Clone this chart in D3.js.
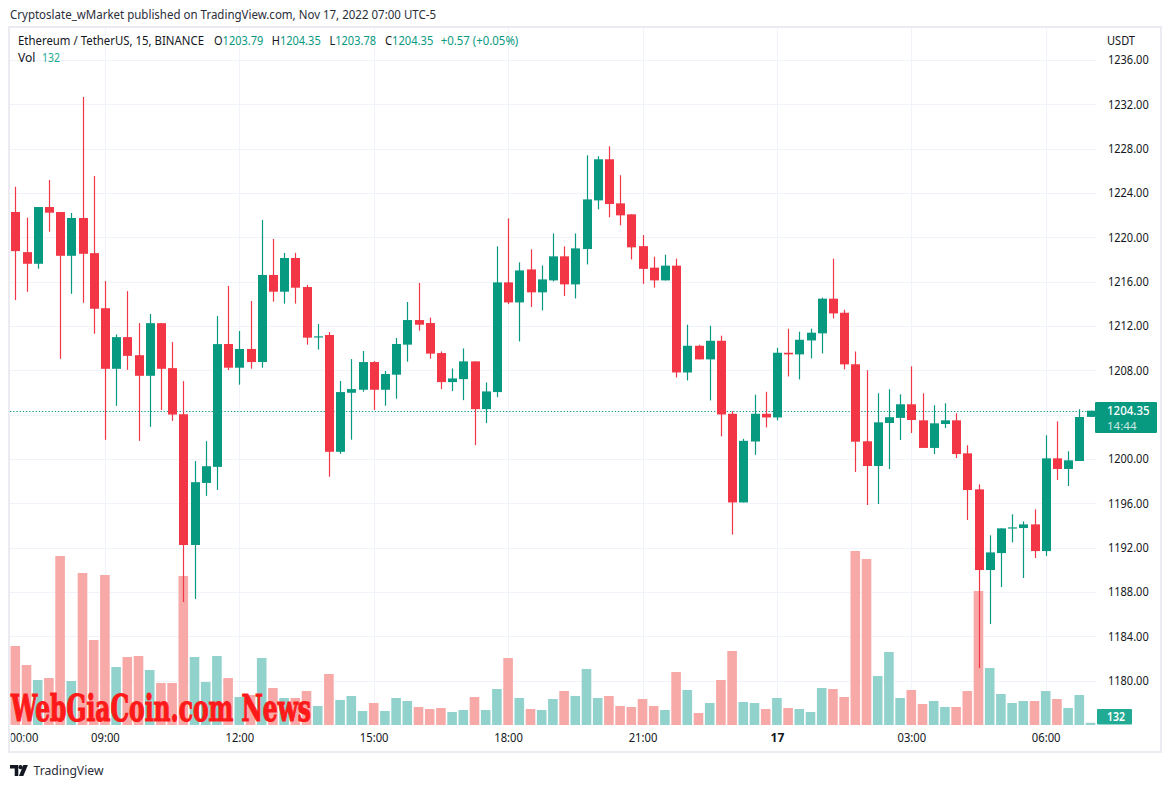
<!DOCTYPE html>
<html><head><meta charset="utf-8">
<script src="https://cdn.jsdelivr.net/npm/d3@7"></script>
<style>html,body{margin:0;padding:0;background:#fff;}svg{display:block;font-family:"Noto Sans",sans-serif;}</style>
</head><body><svg id="c" width="1171" height="788"></svg>
<script>
// ---------- DATA ----------
const openP = [1222.28,1218.66,1217.61,1222.73,1222.28,1218.33,1221.74,1218.57,1213.6,1208.13,
1210.99,1209.36,1207.5,1212.25,1208.19,1204.03,1192.23,1197.83,1199.28,1210.37,
1208.23,1209.92,1208.74,1216.6,1215.09,1218.13,1215.51,1211.0,1211.18,1200.64,
1205.97,1206.24,1208.74,1206.24,1207.6,1210.31,1212.53,1212.26,1209.55,1206.93,
1207.2,1208.8,1204.49,1206.03,1215.93,1214.12,1217.1,1215.03,1216.11,1218.28,
1215.75,1218.94,1223.33,1227.04,1223.06,1222.07,1219.2,1217.26,1216.11,1217.44,
1207.8,1210.21,1208.98,1210.66,1204.07,1196.07,1201.57,1204.07,1203.74,1209.58,
1209.43,1210.69,1211.33,1214.46,1213.19,1208.54,1201.59,1199.36,1203.24,1203.7,
1204.93,1203.48,1200.99,1203.15,1203.48,1200.5,1197.25,1189.97,1191.5,1193.73,
1193.76,1194.09,1191.68,1200.05,1199.09,1199.81,1203.79];
const highP = [1224.56,1221.77,1222.73,1225.17,1222.28,1222.19,1232.66,1225.53,1216.05,1211.23,
1215.14,1212.25,1213.07,1212.25,1210.54,1207.02,1199.8,1201.6,1212.89,1215.61,
1211.54,1214.25,1221.57,1219.85,1218.59,1218.59,1215.7,1212.17,1211.45,1207.03,
1209.01,1209.74,1208.83,1207.93,1210.91,1214.16,1215.88,1212.75,1209.7,1208.16,
1209.97,1208.8,1206.9,1219.18,1221.71,1217.74,1218.91,1217.46,1220.35,1219.18,
1220.35,1227.4,1227.31,1228.21,1225.6,1222.07,1220.2,1218.25,1218.43,1218.07,
1212.11,1210.3,1212.02,1211.12,1204.31,1201.81,1205.79,1206.06,1210.03,1211.75,
1211.48,1211.75,1214.55,1218.07,1213.46,1209.69,1208.0,1205.92,1206.28,1205.83,
1208.36,1205.92,1204.84,1205.02,1204.12,1201.23,1197.7,1193.1,1193.73,1195.0,
1194.36,1195.45,1202.13,1203.39,1200.69,1204.48,1204.35];
const lowP = [1214.33,1215.08,1217.16,1220.5,1209.03,1214.9,1214.09,1211.29,1201.72,1204.79,
1208.04,1201.63,1202.89,1204.4,1203.43,1187.09,1187.36,1196.66,1197.2,1208.02,
1206.7,1208.14,1208.23,1214.19,1214.01,1214.01,1210.31,1209.86,1198.39,1200.46,
1201.73,1206.06,1204.41,1204.8,1205.43,1208.77,1211.57,1209.04,1206.3,1206.12,
1205.3,1201.24,1203.23,1205.57,1213.97,1210.6,1213.7,1213.4,1216.02,1214.7,
1214.48,1217.55,1222.52,1221.8,1221.08,1218.0,1215.8,1215.45,1216.11,1207.35,
1207.08,1208.98,1205.28,1202.03,1193.17,1196.07,1200.37,1202.84,1203.47,1207.44,
1207.17,1209.07,1209.52,1212.68,1208.08,1198.82,1195.84,1195.93,1199.09,1201.71,
1202.34,1200.99,1200.44,1202.79,1200.08,1194.48,1181.12,1185.09,1188.43,1192.47,
1189.25,1191.05,1191.23,1198.1,1197.55,1199.81,1203.78];
const closeP = [1218.75,1217.61,1222.73,1222.22,1218.33,1221.74,1218.51,1213.55,1208.13,1210.99,
1209.3,1207.5,1212.25,1208.13,1204.0,1192.23,1197.9,1199.34,1210.36,1208.23,
1209.92,1208.74,1216.6,1215.09,1218.13,1215.45,1210.94,1211.06,1200.64,1206.03,
1206.3,1208.74,1206.24,1207.66,1210.37,1212.53,1212.11,1209.5,1206.93,1207.26,
1208.8,1204.49,1206.09,1215.93,1214.12,1217.01,1215.03,1216.2,1218.28,1215.75,
1219.0,1223.42,1227.04,1223.0,1221.98,1219.09,1217.15,1216.11,1217.44,1207.8,
1210.21,1208.98,1210.66,1204.01,1196.07,1201.63,1204.07,1203.74,1209.58,1209.43,
1210.75,1211.39,1214.46,1213.13,1208.53,1201.55,1199.36,1203.3,1203.76,1204.93,
1203.51,1200.99,1203.21,1203.48,1200.44,1197.19,1189.97,1191.56,1193.73,1193.82,
1194.09,1191.68,1200.05,1199.09,1199.87,1203.78,1204.35];
const volume = [4740,3600,2700,2820,10140,2640,9120,5100,9000,3480,
4080,4140,3300,2520,2520,8940,4080,2580,4140,2820,
1680,1800,4020,2220,1620,1620,2040,1140,3060,1500,
1740,840,1320,840,1620,1440,1080,960,1020,780,
900,1680,900,2160,4020,1620,960,900,1560,2040,
1740,3360,1620,1740,1140,1080,1560,1140,900,3180,
2100,720,1320,2700,4440,1380,1320,960,1620,1020,
960,780,2220,2160,1680,10440,9960,2940,4380,1620,
2100,1260,1440,1080,1080,2040,8040,3420,1860,1320,
1440,1440,2040,1560,1020,1800,132];
const priceTicks = [1180,1184,1188,1192,1196,1200,1204,1208,1212,1216,1220,1224,1228,1232,1236];
const timeTickLabels = ["09:00","12:00","15:00","18:00","21:00","17","03:00","06:00"];
const startTime = Date.UTC(2022,10,16,7,0);   // first candle 07:00, 15-minute bars
const times = d3.range(openP.length).map(i => new Date(startTime + i*15*60000));

// ---------- SETUP ----------
const svg = d3.select("#c");
const GREEN="#089981", RED="#f23645", VGREEN="#92d2cc", VRED="#f7a9a7", GRID="#f0f3fa", TXT="#131722";
const paneL=10, paneR=1096, paneT=28, paneB=726;

const x = d3.scaleLinear().domain([0, openP.length-1]).range([15.3, 1090.5]);
const y = d3.scaleLinear().domain([1180, 1236]).range([680.5, 60]);
const yv = d3.scaleLinear().domain([0, 12000]).range([725, 525]);

function txt(p, s, X, Y, o={}) {
  const t = p.append("text").attr("x",X).attr("y",Y).text(s)
    .attr("font-size", o.size||12).attr("fill", o.fill||TXT).attr("text-anchor", o.anchor||"start");
  if (o.w) t.attr("textLength", o.w).attr("lengthAdjust","spacingAndGlyphs");
  if (o.weight) t.attr("font-weight", o.weight);
  if (o.family) t.attr("font-family", o.family);
  return t;
}

const defs = svg.append("defs");
defs.append("clipPath").attr("id","pane").append("rect")
  .attr("x",paneL).attr("y",paneT).attr("width",paneR-paneL).attr("height",paneB-paneT);
defs.append("clipPath").attr("id","taxis").append("rect")
  .attr("x",paneL+0.8).attr("y",-8).attr("width",paneR-paneL).attr("height",26);

// title
txt(svg, "Cryptoslate_wMarket published on TradingView.com, Nov 17, 2022 07:00 UTC-5", 10, 18.5, {w:426, fill:"#2a2e39"});

// frame
svg.append("rect").attr("x",9).attr("y",27).attr("width",1152).attr("height",725)
  .attr("fill","none").attr("stroke","#e6e7ee").attr("stroke-width",1.6);

const pane = svg.append("g").attr("clip-path","url(#pane)");

// grid
const tickIdx = times.map((t,i)=>i).filter(i => times[i].getUTCMinutes()===0 && times[i].getUTCHours()%3===0);
pane.append("g").selectAll("line.h").data(priceTicks).join("line")
  .attr("x1",paneL).attr("x2",paneR)
  .attr("y1",d=>Math.round(y(d))+0.5).attr("y2",d=>Math.round(y(d))+0.5)
  .attr("stroke",GRID).attr("stroke-width",1);
pane.append("g").selectAll("line.v").data(tickIdx).join("line")
  .attr("x1",d=>Math.round(x(d))+0.5).attr("x2",d=>Math.round(x(d))+0.5)
  .attr("y1",paneT).attr("y2",paneB)
  .attr("stroke",GRID).attr("stroke-width",1);

const data = d3.range(openP.length).map(i => ({i, o:openP[i], h:highP[i], l:lowP[i], c:closeP[i], v:volume[i], up: closeP[i]>=openP[i]}));

// volume
pane.append("g").selectAll("rect").data(data).join("rect")
  .attr("x", d => x(d.i)-4.8).attr("width", 9.6)
  .attr("y", d => yv(d.v)).attr("height", d => yv(0)-yv(d.v))
  .attr("fill", d => d.up ? VGREEN : VRED);

// current price line
const last = data[data.length-1];
pane.append("line").attr("x1",paneL).attr("x2",paneR)
  .attr("y1",Math.round(y(last.c))+0.5).attr("y2",Math.round(y(last.c))+0.5)
  .attr("stroke",GREEN).attr("stroke-width",1.1).attr("stroke-dasharray","1.3 1.9");

// candles
const cg = pane.append("g");
cg.selectAll("line").data(data).join("line")
  .attr("x1", d => Math.round(x(d.i))+0.5).attr("x2", d => Math.round(x(d.i))+0.5)
  .attr("y1", d => y(d.h)).attr("y2", d => y(d.l))
  .attr("stroke", d => d.up ? GREEN : RED).attr("stroke-width", 1.2);
cg.selectAll("rect").data(data).join("rect")
  .attr("x", d => Math.round(x(d.i))-4).attr("width", 9)
  .attr("y", d => y(Math.max(d.o,d.c)))
  .attr("height", d => Math.max(1.2, y(Math.min(d.o,d.c)) - y(Math.max(d.o,d.c))))
  .attr("fill", d => d.up ? GREEN : RED);

// header legend
const H = svg.append("g");
txt(H, "Ethereum / TetherUS, 15, BINANCE", 18, 45.3, {w:186});
const ohlc = [["O", last.o, 214, 49.3], ["H", last.h, 271.7, 49], ["L", last.l, 329.5, 46.5], ["C", last.c, 385, 48.3]];
ohlc.forEach(([k,v,kx,w]) => {
  const t = H.append("text").attr("x",kx).attr("y",45.3).attr("font-size",12)
    .attr("textLength",w).attr("lengthAdjust","spacingAndGlyphs");
  t.append("tspan").attr("fill",TXT).text(k);
  t.append("tspan").attr("fill",GREEN).text(v.toFixed(2));
});
const chg = last.c - data[data.length-2].c;
txt(H, (chg>=0?"+":"") + chg.toFixed(2) + " (" + (chg>=0?"+":"") + (chg/data[data.length-2].c*100).toFixed(2) + "%)", 440.7, 45.3, {w:77.6, fill:GREEN});
txt(H, "Vol", 18, 62.3, {w:17.5});
txt(H, String(last.v), 42, 62.3, {w:18, fill:"#22ab94"});

// price axis (labels hidden behind the last-price badge are not drawn)
const badgeTop = 402, badgeBot = 433;
const shownTicks = priceTicks.filter(p => y(p) < badgeTop-6 || y(p) > badgeBot+6);
const ya = svg.append("g").attr("transform","translate(1108,0)")
  .call(d3.axisRight(y).tickValues(shownTicks).tickFormat(d3.format(".2f")).tickSize(0).tickPadding(0));
ya.select(".domain").remove();
ya.selectAll("text").attr("font-family","Noto Sans").attr("font-size",12).attr("fill",TXT)
  .attr("textLength",40.7).attr("lengthAdjust","spacingAndGlyphs");
txt(svg, "USDT", 1107, 45.3, {w:28});

// time axis
const xa = svg.append("g").attr("transform","translate(0,733.5)").attr("clip-path","url(#taxis)");
xa.call(d3.axisBottom(x).tickValues(tickIdx).tickFormat((d,k)=>timeTickLabels[k]).tickSize(0).tickPadding(0));
xa.select(".domain").remove();
xa.selectAll("text").attr("font-family","Noto Sans").attr("font-size",12).attr("fill",TXT)
  .each(function(d,k){ const s=timeTickLabels[k]; if(s.length>2){ d3.select(this).attr("textLength",28.7).attr("lengthAdjust","spacingAndGlyphs"); } else { d3.select(this).attr("font-weight","bold"); } });
txt(xa, "00:00", 38.3, 8.6, {anchor:"end", w:28.7});

// last price badge
svg.append("rect").attr("x",1095).attr("y",badgeTop).attr("width",62).attr("height",badgeBot-badgeTop).attr("rx",1).attr("fill",GREEN);
txt(svg, last.c.toFixed(2), 1107, 414.6, {w:42.6, fill:"#fff", weight:500});
txt(svg, "14:44", 1107, 429.6, {w:29.5, size:10.5, fill:"rgba(255,255,255,0.8)"});
// last volume badge
svg.append("rect").attr("x",1097).attr("y",709).attr("width",35).attr("height",15.5).attr("rx",1).attr("fill","#22ab94");
txt(svg, String(last.v), 1107, 721, {w:18, fill:"#fff", weight:600});

// watermark
txt(svg, "WebGiaCoin.com News", 11, 720.5, {size:37, w:300, fill:"#ff1a1a", weight:900, family:"'DejaVu Serif',serif"})
  .attr("font-stretch","condensed").attr("stroke","#ff1a1a").attr("stroke-width",1.2);

// TradingView footer
const lg = svg.append("g");
lg.append("path").attr("d","M10 765 h8.3 v11 h-3.6 v-7.4 h-4.7z").attr("fill",TXT);
lg.append("circle").attr("cx",20.6).attr("cy",767.2).attr("r",2.1).attr("fill",TXT);
lg.append("path").attr("d","M23.3 765 h4.6 l-4.6 11 h-4.3z").attr("fill",TXT);
txt(svg, "TradingView", 33.5, 774.7, {w:70, size:12.5, fill:"#2a2e39"});
</script></body></html>
